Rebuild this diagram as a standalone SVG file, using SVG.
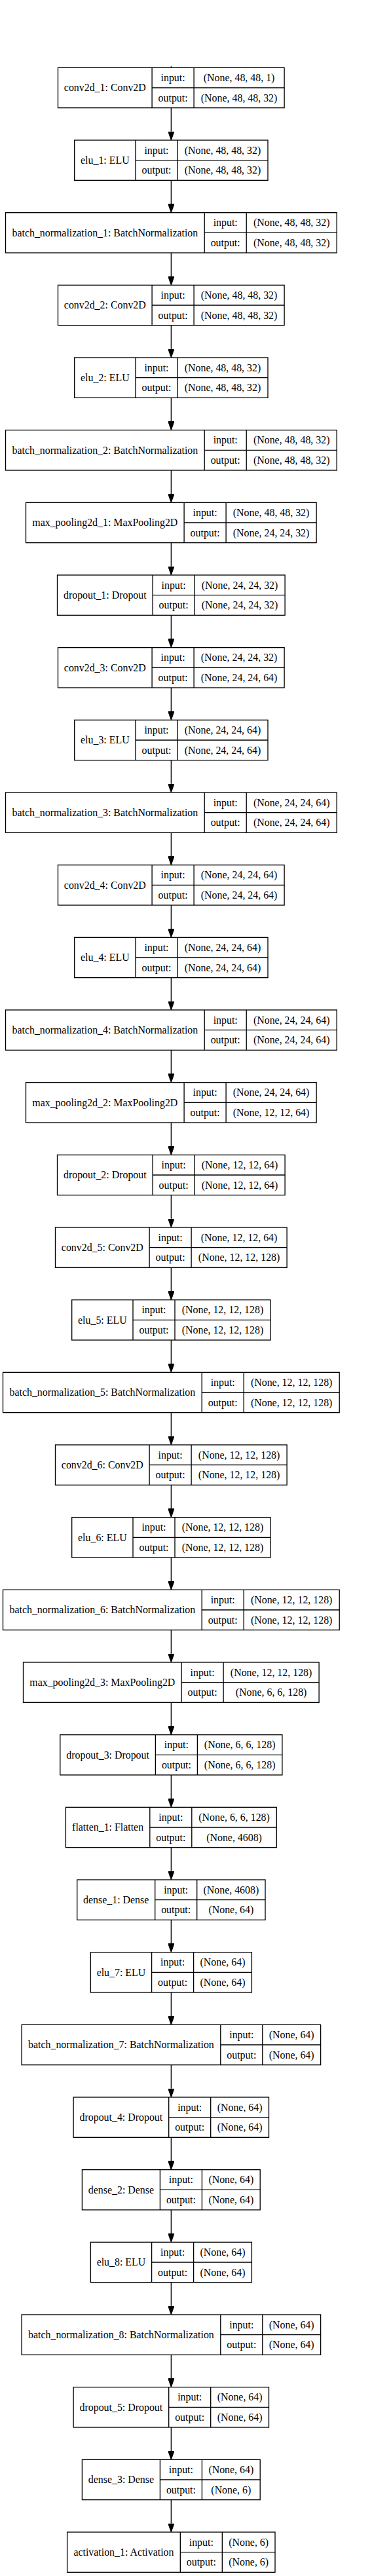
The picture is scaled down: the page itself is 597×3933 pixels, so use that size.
<svg xmlns="http://www.w3.org/2000/svg" width="597" height="3933" viewBox="0 0 597 3933">
<style>
rect{fill:#fff;stroke:#000;stroke-width:1.33}
.n path{fill:none;stroke:#000;stroke-width:1.33}
text{font-family:"Liberation Serif","Times New Roman",serif;font-size:15.9px;text-anchor:middle;fill:#000}
#edges path{fill:none;stroke:#000;stroke-width:1.33}
</style>
<defs>
<marker id="ah" markerUnits="userSpaceOnUse" markerWidth="13.33" markerHeight="9.33" viewBox="0 0 13.33 9.33" refX="0" refY="4.67" orient="auto"><path d="M0 0L13.33 4.67L0 9.33z" fill="#000" stroke="#000" stroke-width="1"/></marker>
</defs>
<rect x="0" y="0" width="597" height="3933" style="stroke:none"/>
<g id="edges">
<path d="M261.33 101.3V103.33"/>
<path d="M261.33 164.67V200.67" marker-end="url(#ah)"/>
<path d="M261.33 275.33V311.33" marker-end="url(#ah)"/>
<path d="M261.33 386V422" marker-end="url(#ah)"/>
<path d="M261.33 496.67V532.67" marker-end="url(#ah)"/>
<path d="M261.33 607.33V643.33" marker-end="url(#ah)"/>
<path d="M261.33 718V754" marker-end="url(#ah)"/>
<path d="M261.33 828.67V864.67" marker-end="url(#ah)"/>
<path d="M261.33 939.33V975.33" marker-end="url(#ah)"/>
<path d="M261.33 1050V1086" marker-end="url(#ah)"/>
<path d="M261.33 1160.67V1196.67" marker-end="url(#ah)"/>
<path d="M261.33 1271.33V1307.33" marker-end="url(#ah)"/>
<path d="M261.33 1382V1418" marker-end="url(#ah)"/>
<path d="M261.33 1492.67V1528.67" marker-end="url(#ah)"/>
<path d="M261.33 1603.33V1639.33" marker-end="url(#ah)"/>
<path d="M261.33 1714V1750" marker-end="url(#ah)"/>
<path d="M261.33 1824.67V1860.67" marker-end="url(#ah)"/>
<path d="M261.33 1935.33V1971.33" marker-end="url(#ah)"/>
<path d="M261.33 2046V2082" marker-end="url(#ah)"/>
<path d="M261.33 2156.67V2192.67" marker-end="url(#ah)"/>
<path d="M261.33 2267.33V2303.33" marker-end="url(#ah)"/>
<path d="M261.33 2378V2414" marker-end="url(#ah)"/>
<path d="M261.33 2488.67V2524.67" marker-end="url(#ah)"/>
<path d="M261.33 2599.33V2635.33" marker-end="url(#ah)"/>
<path d="M261.33 2710V2746" marker-end="url(#ah)"/>
<path d="M261.33 2820.67V2856.67" marker-end="url(#ah)"/>
<path d="M261.33 2931.33V2967.33" marker-end="url(#ah)"/>
<path d="M261.33 3042V3078" marker-end="url(#ah)"/>
<path d="M261.33 3152.67V3188.67" marker-end="url(#ah)"/>
<path d="M261.33 3263.33V3299.33" marker-end="url(#ah)"/>
<path d="M261.33 3374V3410" marker-end="url(#ah)"/>
<path d="M261.33 3484.67V3520.67" marker-end="url(#ah)"/>
<path d="M261.33 3595.33V3631.33" marker-end="url(#ah)"/>
<path d="M261.33 3706V3742" marker-end="url(#ah)"/>
<path d="M261.33 3816.67V3852.67" marker-end="url(#ah)"/>
</g>

<g id="conv2d_1" class="n" transform="translate(0,103.33)"><rect x="88.5" y="0" width="345.6" height="61.33"/><path d="M232.1 0V61.33M296.1 0V61.33M232.1 30.67H434.1"/><text x="160.3" y="36">conv2d_1: Conv2D</text><text x="264.1" y="20.6">input:</text><text x="264.1" y="51.3">output:</text><text x="365.1" y="20.6">(None, 48, 48, 1)</text><text x="365.1" y="51.3">(None, 48, 48, 32)</text></g>

<g id="elu_1" class="n" transform="translate(0,214)"><rect x="113.7" y="0" width="295.3" height="61.33"/><path d="M207 0V61.33M271 0V61.33M207 30.67H409"/><text x="160.35" y="36">elu_1: ELU</text><text x="239" y="20.6">input:</text><text x="239" y="51.3">output:</text><text x="340" y="20.6">(None, 48, 48, 32)</text><text x="340" y="51.3">(None, 48, 48, 32)</text></g>

<g id="batch_normalization_1" class="n" transform="translate(0,324.67)"><rect x="8.5" y="0" width="505.7" height="61.33"/><path d="M312.2 0V61.33M376.2 0V61.33M312.2 30.67H514.2"/><text x="160.35" y="36">batch_normalization_1: BatchNormalization</text><text x="344.2" y="20.6">input:</text><text x="344.2" y="51.3">output:</text><text x="445.2" y="20.6">(None, 48, 48, 32)</text><text x="445.2" y="51.3">(None, 48, 48, 32)</text></g>

<g id="conv2d_2" class="n" transform="translate(0,435.33)"><rect x="88.5" y="0" width="345.6" height="61.33"/><path d="M232.1 0V61.33M296.1 0V61.33M232.1 30.67H434.1"/><text x="160.3" y="36">conv2d_2: Conv2D</text><text x="264.1" y="20.6">input:</text><text x="264.1" y="51.3">output:</text><text x="365.1" y="20.6">(None, 48, 48, 32)</text><text x="365.1" y="51.3">(None, 48, 48, 32)</text></g>

<g id="elu_2" class="n" transform="translate(0,546)"><rect x="113.7" y="0" width="295.3" height="61.33"/><path d="M207 0V61.33M271 0V61.33M207 30.67H409"/><text x="160.35" y="36">elu_2: ELU</text><text x="239" y="20.6">input:</text><text x="239" y="51.3">output:</text><text x="340" y="20.6">(None, 48, 48, 32)</text><text x="340" y="51.3">(None, 48, 48, 32)</text></g>

<g id="batch_normalization_2" class="n" transform="translate(0,656.67)"><rect x="8.5" y="0" width="505.7" height="61.33"/><path d="M312.2 0V61.33M376.2 0V61.33M312.2 30.67H514.2"/><text x="160.35" y="36">batch_normalization_2: BatchNormalization</text><text x="344.2" y="20.6">input:</text><text x="344.2" y="51.3">output:</text><text x="445.2" y="20.6">(None, 48, 48, 32)</text><text x="445.2" y="51.3">(None, 48, 48, 32)</text></g>

<g id="max_pooling2d_1" class="n" transform="translate(0,767.33)"><rect x="39.5" y="0" width="443.6" height="61.33"/><path d="M281.1 0V61.33M345.1 0V61.33M281.1 30.67H483.1"/><text x="160.3" y="36">max_pooling2d_1: MaxPooling2D</text><text x="313.1" y="20.6">input:</text><text x="313.1" y="51.3">output:</text><text x="414.1" y="20.6">(None, 48, 48, 32)</text><text x="414.1" y="51.3">(None, 24, 24, 32)</text></g>

<g id="dropout_1" class="n" transform="translate(0,878)"><rect x="87.5" y="0" width="347.6" height="61.33"/><path d="M233.1 0V61.33M297.1 0V61.33M233.1 30.67H435.1"/><text x="160.3" y="36">dropout_1: Dropout</text><text x="265.1" y="20.6">input:</text><text x="265.1" y="51.3">output:</text><text x="366.1" y="20.6">(None, 24, 24, 32)</text><text x="366.1" y="51.3">(None, 24, 24, 32)</text></g>

<g id="conv2d_3" class="n" transform="translate(0,988.67)"><rect x="88.5" y="0" width="345.6" height="61.33"/><path d="M232.1 0V61.33M296.1 0V61.33M232.1 30.67H434.1"/><text x="160.3" y="36">conv2d_3: Conv2D</text><text x="264.1" y="20.6">input:</text><text x="264.1" y="51.3">output:</text><text x="365.1" y="20.6">(None, 24, 24, 32)</text><text x="365.1" y="51.3">(None, 24, 24, 64)</text></g>

<g id="elu_3" class="n" transform="translate(0,1099.33)"><rect x="113.7" y="0" width="295.3" height="61.33"/><path d="M207 0V61.33M271 0V61.33M207 30.67H409"/><text x="160.35" y="36">elu_3: ELU</text><text x="239" y="20.6">input:</text><text x="239" y="51.3">output:</text><text x="340" y="20.6">(None, 24, 24, 64)</text><text x="340" y="51.3">(None, 24, 24, 64)</text></g>

<g id="batch_normalization_3" class="n" transform="translate(0,1210)"><rect x="8.5" y="0" width="505.7" height="61.33"/><path d="M312.2 0V61.33M376.2 0V61.33M312.2 30.67H514.2"/><text x="160.35" y="36">batch_normalization_3: BatchNormalization</text><text x="344.2" y="20.6">input:</text><text x="344.2" y="51.3">output:</text><text x="445.2" y="20.6">(None, 24, 24, 64)</text><text x="445.2" y="51.3">(None, 24, 24, 64)</text></g>

<g id="conv2d_4" class="n" transform="translate(0,1320.67)"><rect x="88.5" y="0" width="345.6" height="61.33"/><path d="M232.1 0V61.33M296.1 0V61.33M232.1 30.67H434.1"/><text x="160.3" y="36">conv2d_4: Conv2D</text><text x="264.1" y="20.6">input:</text><text x="264.1" y="51.3">output:</text><text x="365.1" y="20.6">(None, 24, 24, 64)</text><text x="365.1" y="51.3">(None, 24, 24, 64)</text></g>

<g id="elu_4" class="n" transform="translate(0,1431.33)"><rect x="113.7" y="0" width="295.3" height="61.33"/><path d="M207 0V61.33M271 0V61.33M207 30.67H409"/><text x="160.35" y="36">elu_4: ELU</text><text x="239" y="20.6">input:</text><text x="239" y="51.3">output:</text><text x="340" y="20.6">(None, 24, 24, 64)</text><text x="340" y="51.3">(None, 24, 24, 64)</text></g>

<g id="batch_normalization_4" class="n" transform="translate(0,1542)"><rect x="8.5" y="0" width="505.7" height="61.33"/><path d="M312.2 0V61.33M376.2 0V61.33M312.2 30.67H514.2"/><text x="160.35" y="36">batch_normalization_4: BatchNormalization</text><text x="344.2" y="20.6">input:</text><text x="344.2" y="51.3">output:</text><text x="445.2" y="20.6">(None, 24, 24, 64)</text><text x="445.2" y="51.3">(None, 24, 24, 64)</text></g>

<g id="max_pooling2d_2" class="n" transform="translate(0,1652.67)"><rect x="39.5" y="0" width="443.6" height="61.33"/><path d="M281.1 0V61.33M345.1 0V61.33M281.1 30.67H483.1"/><text x="160.3" y="36">max_pooling2d_2: MaxPooling2D</text><text x="313.1" y="20.6">input:</text><text x="313.1" y="51.3">output:</text><text x="414.1" y="20.6">(None, 24, 24, 64)</text><text x="414.1" y="51.3">(None, 12, 12, 64)</text></g>

<g id="dropout_2" class="n" transform="translate(0,1763.33)"><rect x="87.5" y="0" width="347.6" height="61.33"/><path d="M233.1 0V61.33M297.1 0V61.33M233.1 30.67H435.1"/><text x="160.3" y="36">dropout_2: Dropout</text><text x="265.1" y="20.6">input:</text><text x="265.1" y="51.3">output:</text><text x="366.1" y="20.6">(None, 12, 12, 64)</text><text x="366.1" y="51.3">(None, 12, 12, 64)</text></g>

<g id="conv2d_5" class="n" transform="translate(0,1874)"><rect x="84.5" y="0" width="353.6" height="61.33"/><path d="M228.1 0V61.33M292.1 0V61.33M228.1 30.67H438.1"/><text x="156.3" y="36">conv2d_5: Conv2D</text><text x="260.1" y="20.6">input:</text><text x="260.1" y="51.3">output:</text><text x="365.1" y="20.6">(None, 12, 12, 64)</text><text x="365.1" y="51.3">(None, 12, 12, 128)</text></g>

<g id="elu_5" class="n" transform="translate(0,1984.67)"><rect x="109.7" y="0" width="303.3" height="61.33"/><path d="M203 0V61.33M267 0V61.33M203 30.67H413"/><text x="156.35" y="36">elu_5: ELU</text><text x="235" y="20.6">input:</text><text x="235" y="51.3">output:</text><text x="340" y="20.6">(None, 12, 12, 128)</text><text x="340" y="51.3">(None, 12, 12, 128)</text></g>

<g id="batch_normalization_5" class="n" transform="translate(0,2095.33)"><rect x="4.5" y="0" width="513.7" height="61.33"/><path d="M308.2 0V61.33M372.2 0V61.33M308.2 30.67H518.2"/><text x="156.35" y="36">batch_normalization_5: BatchNormalization</text><text x="340.2" y="20.6">input:</text><text x="340.2" y="51.3">output:</text><text x="445.2" y="20.6">(None, 12, 12, 128)</text><text x="445.2" y="51.3">(None, 12, 12, 128)</text></g>

<g id="conv2d_6" class="n" transform="translate(0,2206)"><rect x="84.5" y="0" width="353.6" height="61.33"/><path d="M228.1 0V61.33M292.1 0V61.33M228.1 30.67H438.1"/><text x="156.3" y="36">conv2d_6: Conv2D</text><text x="260.1" y="20.6">input:</text><text x="260.1" y="51.3">output:</text><text x="365.1" y="20.6">(None, 12, 12, 128)</text><text x="365.1" y="51.3">(None, 12, 12, 128)</text></g>

<g id="elu_6" class="n" transform="translate(0,2316.67)"><rect x="109.7" y="0" width="303.3" height="61.33"/><path d="M203 0V61.33M267 0V61.33M203 30.67H413"/><text x="156.35" y="36">elu_6: ELU</text><text x="235" y="20.6">input:</text><text x="235" y="51.3">output:</text><text x="340" y="20.6">(None, 12, 12, 128)</text><text x="340" y="51.3">(None, 12, 12, 128)</text></g>

<g id="batch_normalization_6" class="n" transform="translate(0,2427.33)"><rect x="4.5" y="0" width="513.7" height="61.33"/><path d="M308.2 0V61.33M372.2 0V61.33M308.2 30.67H518.2"/><text x="156.35" y="36">batch_normalization_6: BatchNormalization</text><text x="340.2" y="20.6">input:</text><text x="340.2" y="51.3">output:</text><text x="445.2" y="20.6">(None, 12, 12, 128)</text><text x="445.2" y="51.3">(None, 12, 12, 128)</text></g>

<g id="max_pooling2d_3" class="n" transform="translate(0,2538)"><rect x="35.5" y="0" width="451.6" height="61.33"/><path d="M277.1 0V61.33M341.1 0V61.33M277.1 30.67H487.1"/><text x="156.3" y="36">max_pooling2d_3: MaxPooling2D</text><text x="309.1" y="20.6">input:</text><text x="309.1" y="51.3">output:</text><text x="414.1" y="20.6">(None, 12, 12, 128)</text><text x="414.1" y="51.3">(None, 6, 6, 128)</text></g>

<g id="dropout_3" class="n" transform="translate(0,2648.67)"><rect x="91.8" y="0" width="339.1" height="61.33"/><path d="M237.4 0V61.33M301.4 0V61.33M237.4 30.67H430.9"/><text x="164.6" y="36">dropout_3: Dropout</text><text x="269.4" y="20.6">input:</text><text x="269.4" y="51.3">output:</text><text x="366.15" y="20.6">(None, 6, 6, 128)</text><text x="366.15" y="51.3">(None, 6, 6, 128)</text></g>

<g id="flatten_1" class="n" transform="translate(0,2759.33)"><rect x="100.4" y="0" width="321.9" height="61.33"/><path d="M228.8 0V61.33M292.8 0V61.33M228.8 30.67H422.3"/><text x="164.6" y="36">flatten_1: Flatten</text><text x="260.8" y="20.6">input:</text><text x="260.8" y="51.3">output:</text><text x="357.55" y="20.6">(None, 6, 6, 128)</text><text x="357.55" y="51.3">(None, 4608)</text></g>

<g id="dense_1" class="n" transform="translate(0,2870)"><rect x="117.7" y="0" width="287.3" height="61.33"/><path d="M236.7 0V61.33M300.7 0V61.33M236.7 30.67H405"/><text x="177.2" y="36">dense_1: Dense</text><text x="268.7" y="20.6">input:</text><text x="268.7" y="51.3">output:</text><text x="352.85" y="20.6">(None, 4608)</text><text x="352.85" y="51.3">(None, 64)</text></g>

<g id="elu_7" class="n" transform="translate(0,2980.67)"><rect x="138.3" y="0" width="246.1" height="61.33"/><path d="M231.6 0V61.33M295.6 0V61.33M231.6 30.67H384.4"/><text x="184.95" y="36">elu_7: ELU</text><text x="263.6" y="20.6">input:</text><text x="263.6" y="51.3">output:</text><text x="340" y="20.6">(None, 64)</text><text x="340" y="51.3">(None, 64)</text></g>

<g id="batch_normalization_7" class="n" transform="translate(0,3091.33)"><rect x="33.1" y="0" width="456.5" height="61.33"/><path d="M336.8 0V61.33M400.8 0V61.33M336.8 30.67H489.6"/><text x="184.95" y="36">batch_normalization_7: BatchNormalization</text><text x="368.8" y="20.6">input:</text><text x="368.8" y="51.3">output:</text><text x="445.2" y="20.6">(None, 64)</text><text x="445.2" y="51.3">(None, 64)</text></g>

<g id="dropout_4" class="n" transform="translate(0,3202)"><rect x="112.1" y="0" width="298.4" height="61.33"/><path d="M257.7 0V61.33M321.7 0V61.33M257.7 30.67H410.5"/><text x="184.9" y="36">dropout_4: Dropout</text><text x="289.7" y="20.6">input:</text><text x="289.7" y="51.3">output:</text><text x="366.1" y="20.6">(None, 64)</text><text x="366.1" y="51.3">(None, 64)</text></g>

<g id="dense_2" class="n" transform="translate(0,3312.67)"><rect x="125.4" y="0" width="271.8" height="61.33"/><path d="M244.4 0V61.33M308.4 0V61.33M244.4 30.67H397.2"/><text x="184.9" y="36">dense_2: Dense</text><text x="276.4" y="20.6">input:</text><text x="276.4" y="51.3">output:</text><text x="352.8" y="20.6">(None, 64)</text><text x="352.8" y="51.3">(None, 64)</text></g>

<g id="elu_8" class="n" transform="translate(0,3423.33)"><rect x="138.3" y="0" width="246.1" height="61.33"/><path d="M231.6 0V61.33M295.6 0V61.33M231.6 30.67H384.4"/><text x="184.95" y="36">elu_8: ELU</text><text x="263.6" y="20.6">input:</text><text x="263.6" y="51.3">output:</text><text x="340" y="20.6">(None, 64)</text><text x="340" y="51.3">(None, 64)</text></g>

<g id="batch_normalization_8" class="n" transform="translate(0,3534)"><rect x="33.1" y="0" width="456.5" height="61.33"/><path d="M336.8 0V61.33M400.8 0V61.33M336.8 30.67H489.6"/><text x="184.95" y="36">batch_normalization_8: BatchNormalization</text><text x="368.8" y="20.6">input:</text><text x="368.8" y="51.3">output:</text><text x="445.2" y="20.6">(None, 64)</text><text x="445.2" y="51.3">(None, 64)</text></g>

<g id="dropout_5" class="n" transform="translate(0,3644.67)"><rect x="112.1" y="0" width="298.4" height="61.33"/><path d="M257.7 0V61.33M321.7 0V61.33M257.7 30.67H410.5"/><text x="184.9" y="36">dropout_5: Dropout</text><text x="289.7" y="20.6">input:</text><text x="289.7" y="51.3">output:</text><text x="366.1" y="20.6">(None, 64)</text><text x="366.1" y="51.3">(None, 64)</text></g>

<g id="dense_3" class="n" transform="translate(0,3755.33)"><rect x="125.4" y="0" width="271.8" height="61.33"/><path d="M244.4 0V61.33M308.4 0V61.33M244.4 30.67H397.2"/><text x="184.9" y="36">dense_3: Dense</text><text x="276.4" y="20.6">input:</text><text x="276.4" y="51.3">output:</text><text x="352.8" y="20.6">(None, 64)</text><text x="352.8" y="51.3">(None, 6)</text></g>

<g id="activation_1" class="n" transform="translate(0,3866)"><rect x="102.6" y="0" width="317.4" height="61.33"/><path d="M275.3 0V61.33M339.3 0V61.33M275.3 30.67H420"/><text x="188.95" y="36">activation_1: Activation</text><text x="307.3" y="20.6">input:</text><text x="307.3" y="51.3">output:</text><text x="379.65" y="20.6">(None, 6)</text><text x="379.65" y="51.3">(None, 6)</text></g>
</svg>
